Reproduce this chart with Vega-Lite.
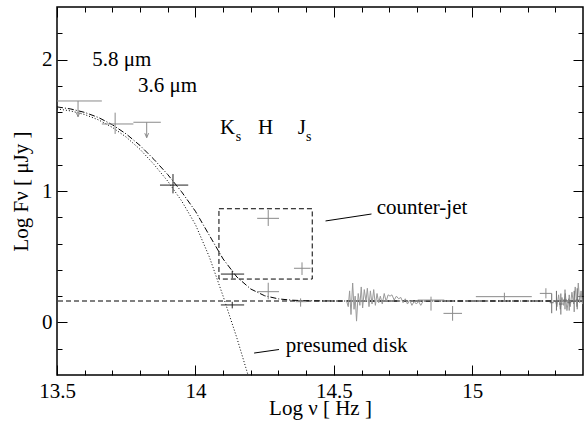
{
  "$schema": "https://vega.github.io/schema/vega-lite/v6.json",
  "width": 526,
  "height": 368,
  "autosize": {"type": "none"},
  "padding": {"left": 57, "top": 7, "right": 1, "bottom": 46},
  "background": "white",
  "config": {
    "view": {"stroke": "black", "strokeWidth": 1.5},
    "axis": {
      "labelFont": "Liberation Serif, Times New Roman, DejaVu Serif, serif", "labelFontSize": 21, "labelColor": "black",
      "titleFont": "Liberation Serif, Times New Roman, DejaVu Serif, serif", "titleFontSize": 21, "titleFontWeight": "normal", "titleColor": "black",
      "tickColor": "black", "tickWidth": 1, "grid": false, "domain": false,
      "labelFlush": false, "labelOverlap": false, "labelBound": false
    }
  },
  "datasets": {
    "disk": [
      {"x": 13.5, "y": 1.625}, {"x": 13.55, "y": 1.609}, {"x": 13.6, "y": 1.582}, {"x": 13.65, "y": 1.541},
      {"x": 13.7, "y": 1.484}, {"x": 13.75, "y": 1.41}, {"x": 13.8, "y": 1.317}, {"x": 13.85, "y": 1.203},
      {"x": 13.9, "y": 1.075}, {"x": 13.95, "y": 0.925}, {"x": 14.0, "y": 0.745}, {"x": 14.05, "y": 0.5},
      {"x": 14.1, "y": 0.2}, {"x": 14.15, "y": -0.12}, {"x": 14.19, "y": -0.4}, {"x": 14.2, "y": -0.47}
    ],
    "total": [
      {"x": 13.5, "y": 1.64}, {"x": 13.55, "y": 1.624}, {"x": 13.6, "y": 1.598}, {"x": 13.65, "y": 1.559},
      {"x": 13.7, "y": 1.504}, {"x": 13.75, "y": 1.434}, {"x": 13.8, "y": 1.346}, {"x": 13.85, "y": 1.241},
      {"x": 13.9, "y": 1.125}, {"x": 13.95, "y": 0.994}, {"x": 14.0, "y": 0.846}, {"x": 14.05, "y": 0.664},
      {"x": 14.1, "y": 0.483}, {"x": 14.15, "y": 0.345}, {"x": 14.2, "y": 0.254}, {"x": 14.25, "y": 0.203},
      {"x": 14.3, "y": 0.179}, {"x": 14.35, "y": 0.169}, {"x": 14.4, "y": 0.165}, {"x": 14.5, "y": 0.163},
      {"x": 15.4, "y": 0.163}
    ],
    "spec": [
      {"x": 14.545, "y": 0.17, "s": "a"}, {"x": 14.552, "y": 0.12, "s": "a"}, {"x": 14.557, "y": 0.24, "s": "a"},
      {"x": 14.562, "y": 0.06, "s": "a"}, {"x": 14.568, "y": 0.3, "s": "a"}, {"x": 14.573, "y": 0.1, "s": "a"},
      {"x": 14.577, "y": 0.2, "s": "a"}, {"x": 14.582, "y": 0.01, "s": "a"}, {"x": 14.588, "y": 0.22, "s": "a"},
      {"x": 14.594, "y": 0.13, "s": "a"}, {"x": 14.599, "y": 0.27, "s": "a"}, {"x": 14.604, "y": 0.11, "s": "a"},
      {"x": 14.61, "y": 0.25, "s": "a"}, {"x": 14.616, "y": 0.16, "s": "a"}, {"x": 14.621, "y": 0.26, "s": "a"},
      {"x": 14.627, "y": 0.12, "s": "a"}, {"x": 14.632, "y": 0.24, "s": "a"}, {"x": 14.638, "y": 0.14, "s": "a"},
      {"x": 14.644, "y": 0.25, "s": "a"}, {"x": 14.65, "y": 0.13, "s": "a"}, {"x": 14.656, "y": 0.22, "s": "a"},
      {"x": 14.662, "y": 0.15, "s": "a"}, {"x": 14.668, "y": 0.2, "s": "a"}, {"x": 14.675, "y": 0.14, "s": "a"},
      {"x": 14.682, "y": 0.22, "s": "a"}, {"x": 14.689, "y": 0.16, "s": "a"}, {"x": 14.696, "y": 0.21, "s": "a"},
      {"x": 14.703, "y": 0.2, "s": "a"}, {"x": 14.71, "y": 0.21, "s": "a"}, {"x": 14.718, "y": 0.17, "s": "a"},
      {"x": 14.726, "y": 0.2, "s": "a"}, {"x": 14.734, "y": 0.18, "s": "a"}, {"x": 14.742, "y": 0.19, "s": "a"},
      {"x": 14.75, "y": 0.15, "s": "a"}, {"x": 14.758, "y": 0.18, "s": "a"}, {"x": 14.766, "y": 0.14, "s": "a"},
      {"x": 14.774, "y": 0.17, "s": "a"}, {"x": 14.782, "y": 0.13, "s": "a"}, {"x": 14.79, "y": 0.16, "s": "a"},
      {"x": 14.798, "y": 0.14, "s": "a"}, {"x": 14.806, "y": 0.16, "s": "a"}, {"x": 14.814, "y": 0.13, "s": "a"},
      {"x": 14.822, "y": 0.16, "s": "a"},
      {"x": 15.3, "y": 0.17, "s": "b"}, {"x": 15.306, "y": 0.12, "s": "b"}, {"x": 15.312, "y": 0.21, "s": "b"},
      {"x": 15.318, "y": 0.1, "s": "b"}, {"x": 15.324, "y": 0.19, "s": "b"}, {"x": 15.33, "y": 0.13, "s": "b"},
      {"x": 15.336, "y": 0.22, "s": "b"}, {"x": 15.342, "y": 0.09, "s": "b"}, {"x": 15.348, "y": 0.18, "s": "b"},
      {"x": 15.354, "y": 0.12, "s": "b"}, {"x": 15.36, "y": 0.23, "s": "b"}, {"x": 15.366, "y": 0.14, "s": "b"},
      {"x": 15.372, "y": 0.27, "s": "b"}, {"x": 15.378, "y": 0.12, "s": "b"}, {"x": 15.383, "y": 0.3, "s": "b"},
      {"x": 15.388, "y": 0.15, "s": "b"}, {"x": 15.393, "y": 0.24, "s": "b"}, {"x": 15.398, "y": 0.14, "s": "b"}
    ],
    "pts": [
      {"x": 13.71, "y": 1.51, "xlo": 13.662, "xhi": 13.776, "ylo": 1.434, "yhi": 1.596, "k": "gray"},
      {"x": 13.919, "y": 1.045, "xlo": 13.872, "xhi": 13.974, "ylo": 0.982, "yhi": 1.129, "k": "dark"},
      {"x": 14.263, "y": 0.792, "xlo": 14.223, "xhi": 14.302, "ylo": 0.734, "yhi": 0.855, "k": "gray"},
      {"x": 14.385, "y": 0.412, "xlo": 14.356, "xhi": 14.416, "ylo": 0.361, "yhi": 0.457, "k": "gray"},
      {"x": 14.133, "y": 0.368, "xlo": 14.092, "xhi": 14.176, "ylo": 0.336, "yhi": 0.394, "k": "dark"},
      {"x": 14.133, "y": 0.133, "xlo": 14.092, "xhi": 14.176, "ylo": 0.107, "yhi": 0.157, "k": "dark"},
      {"x": 14.263, "y": 0.234, "xlo": 14.223, "xhi": 14.302, "ylo": 0.176, "yhi": 0.302, "k": "gray"},
      {"x": 14.38, "y": 0.158, "xlo": 14.362, "xhi": 14.401, "ylo": 0.12, "yhi": 0.183, "k": "gray"},
      {"x": 14.851, "y": 0.17, "xlo": 14.803, "xhi": 14.899, "ylo": 0.09, "yhi": 0.196, "k": "gray"},
      {"x": 14.929, "y": 0.069, "xlo": 14.896, "xhi": 14.963, "ylo": 0.013, "yhi": 0.125, "k": "gray"},
      {"x": 15.116, "y": 0.196, "xlo": 15.013, "xhi": 15.215, "ylo": 0.158, "yhi": 0.226, "k": "gray"},
      {"x": 15.266, "y": 0.221, "xlo": 15.244, "xhi": 15.287, "ylo": 0.183, "yhi": 0.26, "k": "gray"},
      {"x": 15.287, "y": 0.15, "xlo": 15.28, "xhi": 15.294, "ylo": 0.07, "yhi": 0.22, "k": "mid"},
      {"x": 15.304, "y": 0.16, "xlo": 15.297, "xhi": 15.311, "ylo": 0.09, "yhi": 0.24, "k": "mid"},
      {"x": 15.32, "y": 0.14, "xlo": 15.313, "xhi": 15.327, "ylo": 0.06, "yhi": 0.22, "k": "mid"},
      {"x": 15.335, "y": 0.17, "xlo": 15.328, "xhi": 15.342, "ylo": 0.1, "yhi": 0.25, "k": "mid"},
      {"x": 15.35, "y": 0.15, "xlo": 15.343, "xhi": 15.357, "ylo": 0.09, "yhi": 0.21, "k": "mid"},
      {"x": 15.368, "y": 0.16, "xlo": 15.361, "xhi": 15.375, "ylo": 0.08, "yhi": 0.24, "k": "mid"},
      {"x": 15.379, "y": 0.17, "xlo": 15.373, "xhi": 15.386, "ylo": 0.1, "yhi": 0.26, "k": "mid"}
    ],
    "ul": [
      {"x": 13.576, "y": 1.685, "xlo": 13.49, "xhi": 13.662, "tip": 1.565},
      {"x": 13.824, "y": 1.523, "xlo": 13.776, "xhi": 13.875, "tip": 1.406}
    ],
    "box": [{"x1": 14.085, "x2": 14.422, "y1": 0.33, "y2": 0.865}],
    "leaders": [
      {"x1": 14.47, "y1": 0.772, "x2": 14.636, "y2": 0.825},
      {"x1": 14.212, "y1": -0.233, "x2": 14.302, "y2": -0.206}
    ],
    "texts": [
      {"t": "5.8 μm", "x": 13.627, "y": 2.0},
      {"t": "3.6 μm", "x": 13.793, "y": 1.8},
      {"t": "K", "x": 14.0885, "y": 1.479},
      {"t": "H", "x": 14.226, "y": 1.479},
      {"t": "J", "x": 14.37, "y": 1.479},
      {"t": "counter-jet", "x": 14.655, "y": 0.87},
      {"t": "presumed disk", "x": 14.326, "y": -0.178}
    ],
    "subs": [
      {"t": "s", "x": 14.146, "y": 1.413},
      {"t": "s", "x": 14.399, "y": 1.413}
    ],
    "anchor": [{"x": 14.0, "y": 0.0}]
  },
  "layer": [
    {
      "layer": [
        {
          "data": {"name": "total"},
          "mark": {"type": "line", "color": "black", "strokeWidth": 1, "strokeDash": [6, 2, 1, 2], "clip": true},
          "encoding": {
            "x": {"field": "x", "type": "quantitative", "scale": {"domain": [13.5, 15.4], "nice": false, "zero": false},
              "axis": {"orient": "bottom", "values": [13.5, 14, 14.5, 15], "format": "~g", "ticks": false, "labelPadding": 5,
                "title": "Log ν  [ Hz ]", "titlePadding": -4}},
            "y": {"field": "y", "type": "quantitative", "scale": {"domain": [-0.4, 2.4], "nice": false, "zero": false},
              "axis": {"orient": "left", "values": [0, 1, 2], "format": "d", "ticks": false, "labelPadding": 5,
                "title": "Log Fν  [ μJy ]", "titlePadding": 10}}
          }
        },
        {
          "data": {"name": "anchor"},
          "mark": {"type": "rule", "color": "black", "strokeWidth": 1, "strokeDash": [5, 3]},
          "encoding": {"y": {"datum": 0.163, "type": "quantitative"}}
        },
        {
          "data": {"name": "disk"},
          "mark": {"type": "line", "color": "black", "strokeWidth": 1, "strokeDash": [1, 2], "clip": true},
          "encoding": {
            "x": {"field": "x", "type": "quantitative"},
            "y": {"field": "y", "type": "quantitative"}
          }
        },
        {
          "data": {"name": "spec"},
          "mark": {"type": "line", "color": "#999999", "strokeWidth": 1, "clip": true},
          "encoding": {
            "x": {"field": "x", "type": "quantitative"},
            "y": {"field": "y", "type": "quantitative"},
            "detail": {"field": "s"}
          }
        },
        {
          "data": {"name": "pts"},
          "mark": {"type": "rule", "strokeWidth": 1, "clip": true},
          "encoding": {
            "x": {"field": "xlo", "type": "quantitative"},
            "x2": {"field": "xhi"},
            "y": {"field": "y", "type": "quantitative"},
            "color": {"field": "k", "type": "nominal", "scale": {"domain": ["dark", "gray", "mid"], "range": ["#222222", "#8a8a8a", "#6a6a6a"]}, "legend": null}
          }
        },
        {
          "data": {"name": "pts"},
          "mark": {"type": "rule", "strokeWidth": 1, "clip": true},
          "encoding": {
            "x": {"field": "x", "type": "quantitative"},
            "y": {"field": "ylo", "type": "quantitative"},
            "y2": {"field": "yhi"},
            "color": {"field": "k", "type": "nominal", "legend": null}
          }
        },
        {
          "data": {"name": "ul"},
          "mark": {"type": "rule", "strokeWidth": 1, "color": "#8a8a8a", "clip": true},
          "encoding": {
            "x": {"field": "xlo", "type": "quantitative"},
            "x2": {"field": "xhi"},
            "y": {"field": "y", "type": "quantitative"}
          }
        },
        {
          "data": {"name": "ul"},
          "mark": {"type": "rule", "strokeWidth": 1, "color": "#8a8a8a"},
          "encoding": {
            "x": {"field": "x", "type": "quantitative"},
            "y": {"field": "y", "type": "quantitative"},
            "y2": {"field": "tip"}
          }
        },
        {
          "data": {"name": "ul"},
          "mark": {"type": "point", "shape": "M-0.6,-1.4L0,0L0.6,-1.4", "size": 40, "filled": false, "stroke": "#8a8a8a", "strokeWidth": 1, "opacity": 1},
          "encoding": {
            "x": {"field": "x", "type": "quantitative"},
            "y": {"field": "tip", "type": "quantitative"}
          }
        },
        {
          "data": {"name": "box"},
          "mark": {"type": "rect", "fill": "white", "fillOpacity": 0, "stroke": "black", "strokeWidth": 1, "strokeDash": [5, 3]},
          "encoding": {
            "x": {"field": "x1", "type": "quantitative"},
            "x2": {"field": "x2"},
            "y": {"field": "y1", "type": "quantitative"},
            "y2": {"field": "y2"}
          }
        },
        {
          "data": {"name": "leaders"},
          "mark": {"type": "rule", "color": "black", "strokeWidth": 1},
          "encoding": {
            "x": {"field": "x1", "type": "quantitative"},
            "x2": {"field": "x2"},
            "y": {"field": "y1", "type": "quantitative"},
            "y2": {"field": "y2"}
          }
        },
        {
          "data": {"name": "texts"},
          "mark": {"type": "text", "align": "left", "baseline": "middle", "font": "Liberation Serif, Times New Roman, DejaVu Serif, serif", "fontSize": 21, "color": "black"},
          "encoding": {
            "x": {"field": "x", "type": "quantitative"},
            "y": {"field": "y", "type": "quantitative"},
            "text": {"field": "t"}
          }
        },
        {
          "data": {"name": "subs"},
          "mark": {"type": "text", "align": "left", "baseline": "middle", "font": "Liberation Serif, Times New Roman, DejaVu Serif, serif", "fontSize": 14, "color": "black"},
          "encoding": {
            "x": {"field": "x", "type": "quantitative"},
            "y": {"field": "y", "type": "quantitative"},
            "text": {"field": "t"}
          }
        }
      ]
    },
    {
      "data": {"name": "anchor"},
      "mark": {"type": "point", "opacity": 0},
      "encoding": {
        "x": {"field": "x", "type": "quantitative", "scale": {"domain": [13.5, 15.4], "nice": false, "zero": false},
          "axis": {"orient": "bottom", "values": [13.5, 14, 14.5, 15], "labels": false, "tickSize": 10, "offset": -10, "title": null}},
        "y": {"field": "y", "type": "quantitative", "scale": {"domain": [-0.4, 2.4], "nice": false, "zero": false},
          "axis": {"orient": "left", "values": [0, 1, 2], "labels": false, "tickSize": 10, "offset": -10, "title": null}}
      }
    },
    {
      "data": {"name": "anchor"},
      "mark": {"type": "point", "opacity": 0},
      "encoding": {
        "x": {"field": "x", "type": "quantitative", "scale": {"domain": [13.5, 15.4], "nice": false, "zero": false},
          "axis": {"orient": "bottom", "values": [13.6, 13.7, 13.8, 13.9, 14.1, 14.2, 14.3, 14.4, 14.6, 14.7, 14.8, 14.9, 15.1, 15.2, 15.3], "labels": false, "tickSize": 5, "offset": -5, "title": null}},
        "y": {"field": "y", "type": "quantitative", "scale": {"domain": [-0.4, 2.4], "nice": false, "zero": false},
          "axis": {"orient": "left", "values": [-0.2, 0.2, 0.4, 0.6, 0.8, 1.2, 1.4, 1.6, 1.8, 2.2], "labels": false, "tickSize": 5, "offset": -5, "title": null}}
      }
    },
    {
      "data": {"name": "anchor"},
      "mark": {"type": "point", "opacity": 0},
      "encoding": {
        "x": {"field": "x", "type": "quantitative", "scale": {"domain": [13.5, 15.4], "nice": false, "zero": false},
          "axis": {"orient": "top", "values": [13.5, 14, 14.5, 15], "labels": false, "tickSize": 10, "offset": -10, "title": null}},
        "y": {"field": "y", "type": "quantitative", "scale": {"domain": [-0.4, 2.4], "nice": false, "zero": false},
          "axis": {"orient": "right", "values": [0, 1, 2], "labels": false, "tickSize": 10, "offset": -10, "title": null}}
      }
    },
    {
      "data": {"name": "anchor"},
      "mark": {"type": "point", "opacity": 0},
      "encoding": {
        "x": {"field": "x", "type": "quantitative", "scale": {"domain": [13.5, 15.4], "nice": false, "zero": false},
          "axis": {"orient": "top", "values": [13.6, 13.7, 13.8, 13.9, 14.1, 14.2, 14.3, 14.4, 14.6, 14.7, 14.8, 14.9, 15.1, 15.2, 15.3], "labels": false, "tickSize": 5, "offset": -5, "title": null}},
        "y": {"field": "y", "type": "quantitative", "scale": {"domain": [-0.4, 2.4], "nice": false, "zero": false},
          "axis": {"orient": "right", "values": [-0.2, 0.2, 0.4, 0.6, 0.8, 1.2, 1.4, 1.6, 1.8, 2.2], "labels": false, "tickSize": 5, "offset": -5, "title": null}}
      }
    }
  ],
  "resolve": {"axis": {"x": "independent", "y": "independent"}}
}
